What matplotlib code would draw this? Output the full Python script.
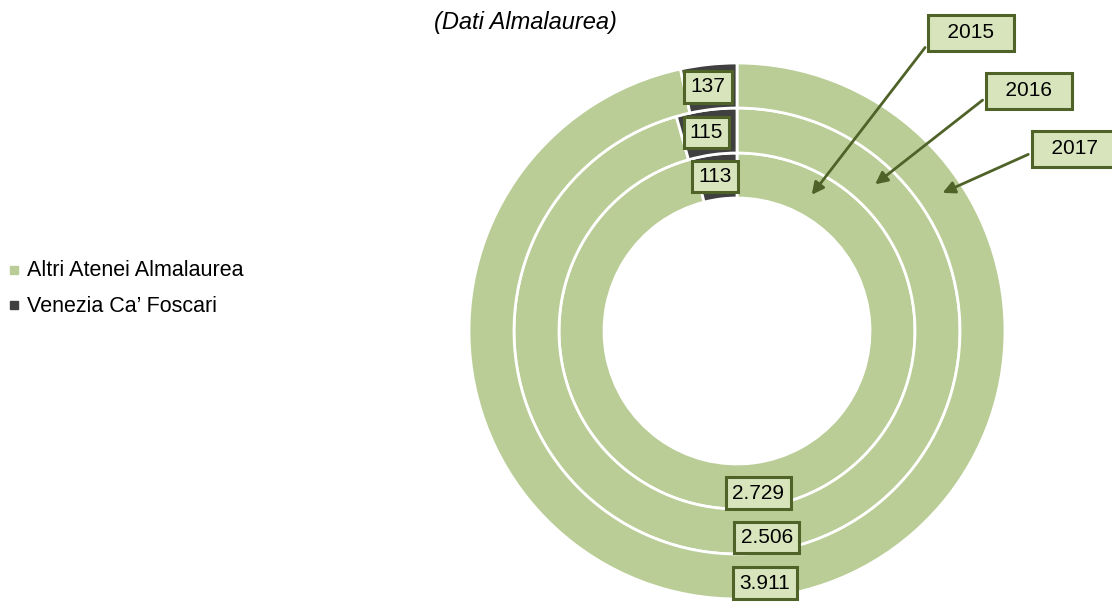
import numpy as np
import matplotlib.pyplot as plt

plt.rcParams['font.family'] = ['Liberation Sans', 'DejaVu Sans']

anni = ['2015', '2016', '2017']
altri = [2729, 2506, 3911]      # Altri Atenei Almalaurea
venezia = [113, 115, 137]       # Venezia Ca' Foscari
etichette_altri = ['2.729', '2.506', '3.911']

verde = '#bacd96'
scuro = '#404040'
bordo = '#4f6228'
fondo_box = '#d8e4bc'

fig = plt.figure(figsize=(11.12, 6.02), dpi=100)
ax = fig.add_axes([0, 0, 1, 1])

cx, cy = 737, 271
raggi = [178, 223, 268]   # bordo esterno di ogni anello (interno = 2015)
spessore = 45

for i, anno in enumerate(anni):
    wedges, _ = ax.pie([altri[i], venezia[i]], radius=raggi[i], center=(cx, cy),
                       startangle=90, counterclock=False, colors=[verde, scuro],
                       wedgeprops=dict(width=spessore, edgecolor='white', linewidth=2))
    r_mid = raggi[i] - spessore / 2
    for w, lab in zip(wedges, [etichette_altri[i], str(venezia[i])]):
        ang = np.deg2rad((w.theta1 + w.theta2) / 2)
        rr = r_mid + (8 if lab == etichette_altri[i] else 0)
        ax.text(cx + rr * np.cos(ang) - (3 if lab != etichette_altri[i] else -1),
                cy + rr * np.sin(ang), lab,
                ha='center', va='center', fontsize=15,
                bbox=dict(boxstyle='square,pad=0.3', facecolor=fondo_box,
                          edgecolor=bordo, linewidth=2.2))

# pie() cambia i limiti: li reimposto in pixel
ax.set_xlim(0, 1112)
ax.set_ylim(0, 602)
ax.set_aspect('equal')
ax.axis('off')

# frecce con gli anni
pos_box = [(971, 569), (1029, 511), (1075, 453)]
punte = [(810, 405), (873, 416), (940, 408)]
for anno, pb, pt in zip(anni, pos_box, punte):
    ax.annotate('  ' + anno + '  ', xy=pt, xytext=pb, ha='center', va='center',
                fontsize=15,
                bbox=dict(boxstyle='square,pad=0.4', facecolor=fondo_box,
                          edgecolor=bordo, linewidth=2.2),
                arrowprops=dict(arrowstyle='-|>', color=bordo, lw=2,
                                mutation_scale=18, relpos=(0, 0.5)))

# legenda
ax.plot(14, 332, 's', color=verde, markersize=5.5)
ax.text(27, 331, 'Altri Atenei Almalaurea', va='center', fontsize=15.5)
ax.plot(14, 297, 's', color=scuro, markersize=5.5)
ax.text(27, 296, "Venezia Ca\u2019 Foscari", va='center', fontsize=15.5)

ax.text(525, 579, '(Dati Almalaurea)', ha='center', va='center',
        fontsize=17, style='italic')

fig.savefig('out.png', dpi=100)
